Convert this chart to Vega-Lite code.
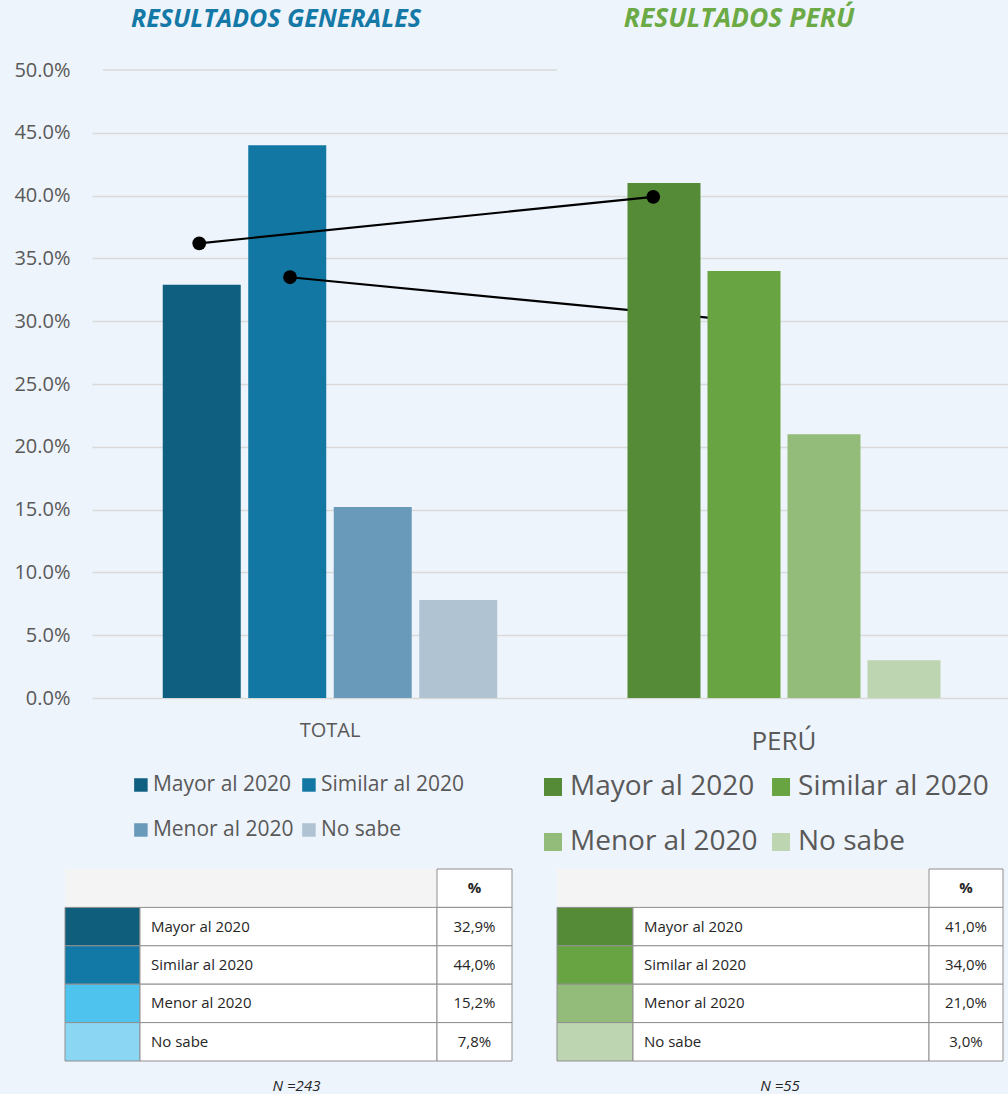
{
  "$schema": "https://vega.github.io/schema/vega-lite/v6.json",
  "background": "#EEF4FB",
  "padding": {"left": 13, "top": 5, "right": 0, "bottom": 0},
  "config": {"view": {"stroke": null}, "font": "Open Sans", "text": {"font": "Open Sans"}},
  "datasets": {
    "bars": [
      {"group": "TOTAL", "cat": "Mayor al 2020", "v": 32.9},
      {"group": "TOTAL", "cat": "Similar al 2020", "v": 44.0},
      {"group": "TOTAL", "cat": "Menor al 2020", "v": 15.2},
      {"group": "TOTAL", "cat": "No sabe", "v": 7.8},
      {"group": "PERÚ", "cat": "Mayor al 2020", "v": 41.0},
      {"group": "PERÚ", "cat": "Similar al 2020", "v": 34.0},
      {"group": "PERÚ", "cat": "Menor al 2020", "v": 21.0},
      {"group": "PERÚ", "cat": "No sabe", "v": 3.0}
    ],
    "lines": [
      {"line": "a", "group": "TOTAL", "cat": "Mayor al 2020", "v": 36.2},
      {"line": "a", "group": "PERÚ", "cat": "Mayor al 2020", "v": 39.9},
      {"line": "b", "group": "TOTAL", "cat": "Similar al 2020", "v": 33.5},
      {"line": "b", "group": "PERÚ", "cat": "Similar al 2020", "v": 30.0}
    ],
    "titles": [
      {"group": "TOTAL", "t": "RESULTADOS GENERALES"},
      {"group": "PERÚ", "t": "RESULTADOS PERÚ"}
    ],
    "legend": [
      {"cat": "Mayor al 2020", "c": "1", "r": "1"},
      {"cat": "Similar al 2020", "c": "2", "r": "1"},
      {"cat": "Menor al 2020", "c": "1", "r": "2"},
      {"cat": "No sabe", "c": "2", "r": "2"}
    ],
    "tableL": [
      {"cat": "Mayor al 2020", "pct": "32,9%"},
      {"cat": "Similar al 2020", "pct": "44,0%"},
      {"cat": "Menor al 2020", "pct": "15,2%"},
      {"cat": "No sabe", "pct": "7,8%"}
    ],
    "tableR": [
      {"cat": "Mayor al 2020", "pct": "41,0%"},
      {"cat": "Similar al 2020", "pct": "34,0%"},
      {"cat": "Menor al 2020", "pct": "21,0%"},
      {"cat": "No sabe", "pct": "3,0%"}
    ],
    "hdr": [{"cat": "hdr", "pct": "%"}]
  },
  "spacing": 0,
  "resolve": {"scale": {"color": "independent"}},
  "vconcat": [
    {
      "hconcat": [
        {"width": 79, "height": 55, "data": {"values": [{}]}, "mark": {"type": "point", "opacity": 0}, "encoding": {}},
        {
          "width": 919,
          "height": 55,
          "data": {"name": "titles"},
          "encoding": {
            "x": {"field": "group", "type": "nominal", "scale": {"type": "band", "domain": ["TOTAL", "PERÚ"], "paddingInner": 0, "paddingOuter": 0.0121, "align": 1}, "axis": null},
            "text": {"field": "t"}
          },
          "layer": [
            {"transform": [{"filter": "datum.group === 'TOTAL'"}], "mark": {"type": "text", "fontSize": 25, "fontWeight": "bold", "fontStyle": "italic", "color": "#1479A6", "dy": -13.5, "dx": -54, "baseline": "middle"}},
            {"transform": [{"filter": "datum.group === 'PERÚ'"}], "mark": {"type": "text", "fontSize": 26.5, "fontWeight": "bold", "fontStyle": "italic", "color": "#6BAA45", "dy": -13.5, "dx": -45, "baseline": "middle"}}
          ]
        }
      ],
      "spacing": 0,
      "bounds": "flush"
    },
    {
      "hconcat": [
        {
          "width": 79,
          "height": 628,
          "data": {"name": "bars"},
          "mark": {"type": "point", "opacity": 0},
          "encoding": {
            "y": {"field": "v", "type": "quantitative", "scale": {"domain": [0, 50], "nice": false},
              "axis": {"values": [0, 5, 10, 15, 20, 25, 30, 35, 40, 45, 50], "labelExpr": "format(datum.value,'.1f')+'%'", "title": null, "domain": false, "ticks": false, "grid": false, "labelPadding": -57, "labelAlign": "right", "labelFontSize": 20, "labelColor": "#595959", "labelFont": "Open Sans"}}
          }
        },
        {
          "width": 919,
          "height": 628,
          "resolve": {"scale": {"color": "independent", "xOffset": "independent"}},
          "encoding": {
            "x": {"field": "group", "type": "nominal", "scale": {"domain": ["TOTAL", "PERÚ"], "paddingInner": 0, "paddingOuter": 0.0121, "align": 1},
              "axis": {"title": null, "domain": false, "ticks": false, "grid": false, "labelBaseline": "middle", "labelColor": "#595959", "labelFont": "Open Sans", "labelAngle": 0,
                "labelFontSize": {"condition": {"test": "datum.value === 'PERÚ'", "value": 26}, "value": 20},
                "labelPadding": {"condition": {"test": "datum.value === 'PERÚ'", "value": 43}, "value": 32}}},
            "y": {"field": "v", "type": "quantitative", "scale": {"domain": [0, 50], "nice": false},
              "axis": {"values": [0, 5, 10, 15, 20, 25, 30, 35, 40, 45, 50], "labels": false, "title": null, "domain": false, "ticks": false, "gridColor": "#D9D9D9", "gridWidth": 1.5, "gridOpacity": {"condition": {"test": "datum.value === 50", "value": 0}, "value": 1}}}
          },
          "layer": [
            {
              "data": {"values": [{"group": "TOTAL", "v": 50}]},
              "mark": {"type": "rect", "fill": "#EEF4FB", "stroke": "#D9D9D9", "strokeWidth": 1.5},
              "encoding": {"y2": {"field": "v"}}
            },
            {
              "data": {"name": "bars"},
              "transform": [{"filter": "datum.group === 'TOTAL'"}],
              "mark": {"type": "bar"},
              "encoding": {
                "xOffset": {"field": "cat", "type": "nominal", "scale": {"domain": ["Mayor al 2020", "Similar al 2020", "Menor al 2020", "No sabe"], "paddingInner": 0.0877, "paddingOuter": 0.699}},
                "color": {"field": "cat", "type": "nominal", "scale": {"domain": ["Mayor al 2020", "Similar al 2020", "Menor al 2020", "No sabe"], "range": ["#0F5F80", "#1277A3", "#6A9AB9", "#AFC3D3"]}, "legend": null}
              }
            },
            {
              "data": {"name": "lines"},
              "transform": [{"filter": "datum.line === 'b'"}],
              "mark": {"type": "line", "color": "black", "strokeWidth": 2.2},
              "encoding": {
                "xOffset": {"field": "cat", "type": "nominal", "scale": {"type": "point", "domain": ["Mayor al 2020", "Similar al 2020", "Menor al 2020", "No sabe"], "padding": 1, "align": 0.53}}
              }
            },
            {
              "data": {"name": "lines"},
              "transform": [{"filter": "datum.line === 'b'"}],
              "mark": {"type": "circle", "color": "black", "opacity": 1, "size": 190},
              "encoding": {
                "xOffset": {"field": "cat", "type": "nominal", "scale": {"type": "point", "domain": ["Mayor al 2020", "Similar al 2020", "Menor al 2020", "No sabe"], "padding": 1, "align": 0.53}}
              }
            },
            {
              "data": {"name": "bars"},
              "transform": [{"filter": "datum.group === 'PERÚ'"}],
              "mark": {"type": "bar"},
              "encoding": {
                "xOffset": {"field": "cat", "type": "nominal", "scale": {"domain": ["Mayor al 2020", "Similar al 2020", "Menor al 2020", "No sabe"], "paddingInner": 0.0875, "paddingOuter": 0.881}},
                "color": {"field": "cat", "type": "nominal", "scale": {"domain": ["Mayor al 2020", "Similar al 2020", "Menor al 2020", "No sabe"], "range": ["#558B37", "#69A443", "#93BB7A", "#BDD5B1"]}, "legend": null}
              }
            },
            {
              "data": {"name": "lines"},
              "transform": [{"filter": "datum.line === 'a'"}],
              "mark": {"type": "line", "color": "black", "strokeWidth": 2.2},
              "encoding": {
                "xOffset": {"field": "cat", "type": "nominal", "scale": {"type": "point", "domain": ["Mayor al 2020", "Similar al 2020", "Menor al 2020", "No sabe"], "padding": 1, "align": 0.53}}
              }
            },
            {
              "data": {"name": "lines"},
              "transform": [{"filter": "datum.line === 'a'"}],
              "mark": {"type": "circle", "color": "black", "opacity": 1, "size": 190},
              "encoding": {
                "xOffset": {"field": "cat", "type": "nominal", "scale": {"type": "point", "domain": ["Mayor al 2020", "Similar al 2020", "Menor al 2020", "No sabe"], "padding": 1, "align": 0.53}}
              }
            }
          ]
        }
      ],
      "spacing": 0,
      "bounds": "flush"
    },
    {
      "hconcat": [
        {
          "width": 491,
          "height": 114,
          "data": {"name": "legend"},
          "encoding": {
            "x": {"field": "c", "type": "ordinal", "scale": {"type": "point", "padding": 0.961, "align": 0.396}, "axis": null},
            "y": {"field": "r", "type": "ordinal", "scale": {"type": "point", "padding": 0.767, "align": 0.449}, "axis": null}
          },
          "layer": [
            {"mark": {"type": "square", "size": 182, "opacity": 1}, "encoding": {"color": {"field": "cat", "type": "nominal", "scale": {"domain": ["Mayor al 2020", "Similar al 2020", "Menor al 2020", "No sabe"], "range": ["#0F5F80", "#1277A3", "#6A9AB9", "#AFC3D3"]}, "legend": null}}},
            {"mark": {"type": "text", "align": "left", "dx": 12, "fontSize": 21, "color": "#595959", "baseline": "middle"}, "encoding": {"text": {"field": "cat"}}}
          ]
        },
        {
          "width": 504,
          "height": 114,
          "data": {"name": "legend"},
          "encoding": {
            "x": {"field": "c", "type": "ordinal", "scale": {"type": "point", "padding": 0.605, "align": 0.1775}, "axis": null},
            "y": {"field": "r", "type": "ordinal", "scale": {"type": "point", "padding": 0.536, "align": 0.559}, "axis": null}
          },
          "layer": [
            {"mark": {"type": "square", "size": 324, "opacity": 1}, "encoding": {"color": {"field": "cat", "type": "nominal", "scale": {"domain": ["Mayor al 2020", "Similar al 2020", "Menor al 2020", "No sabe"], "range": ["#558B37", "#69A443", "#93BB7A", "#BDD5B1"]}, "legend": null}}},
            {"mark": {"type": "text", "align": "left", "dx": 17, "fontSize": 28, "color": "#595959", "baseline": "middle"}, "encoding": {"text": {"field": "cat"}}}
          ]
        }
      ],
      "spacing": 0,
      "bounds": "flush",
      "resolve": {"scale": {"color": "independent"}}
    },
    {
      "hconcat": [
        {"width": 52, "height": 192, "data": {"values": [{}]}, "mark": {"type": "point", "opacity": 0}, "encoding": {}},
        {
          "width": 75, "height": 192,
          "encoding": {"y": {"field": "cat", "type": "nominal", "scale": {"domain": ["hdr", "Mayor al 2020", "Similar al 2020", "Menor al 2020", "No sabe"], "paddingInner": 0, "paddingOuter": 0}, "axis": null}},
          "layer": [
            {"data": {"name": "hdr"}, "mark": {"type": "rect", "fill": "#F4F4F4"}},
            {"data": {"name": "tableL"}, "mark": {"type": "rect", "stroke": "#8F8F8F", "strokeWidth": 1}, "encoding": {"color": {"field": "cat", "type": "nominal", "scale": {"domain": ["Mayor al 2020", "Similar al 2020", "Menor al 2020", "No sabe"], "range": ["#0F5E7C", "#1279A6", "#4EC3EE", "#8BD7F3"]}, "legend": null}}}
          ]
        },
        {
          "width": 297, "height": 192,
          "title": {"text": "N =243", "orient": "bottom", "anchor": "middle", "fontSize": 15, "fontStyle": "italic", "fontWeight": "normal", "font": "Open Sans", "color": "#262626", "offset": 17, "dx": 8},
          "encoding": {"y": {"field": "cat", "type": "nominal", "scale": {"domain": ["hdr", "Mayor al 2020", "Similar al 2020", "Menor al 2020", "No sabe"], "paddingInner": 0, "paddingOuter": 0}, "axis": null}},
          "layer": [
            {"data": {"name": "hdr"}, "mark": {"type": "rect", "fill": "#F4F4F4"}},
            {"data": {"name": "tableL"}, "mark": {"type": "rect", "fill": "white", "stroke": "#8F8F8F", "strokeWidth": 1}},
            {"data": {"name": "tableL"}, "mark": {"type": "text", "align": "left", "dx": 11, "fontSize": 15, "color": "#262626", "baseline": "middle"}, "encoding": {"x": {"datum": 0, "type": "quantitative", "scale": {"domain": [0, 1]}, "axis": null}, "text": {"field": "cat"}}}
          ]
        },
        {
          "width": 75, "height": 192,
          "encoding": {"y": {"field": "cat", "type": "nominal", "scale": {"domain": ["hdr", "Mayor al 2020", "Similar al 2020", "Menor al 2020", "No sabe"], "paddingInner": 0, "paddingOuter": 0}, "axis": null}},
          "layer": [
            {"data": {"name": "hdr"}, "mark": {"type": "rect", "fill": "white", "stroke": "#8F8F8F", "strokeWidth": 1}},
            {"data": {"name": "hdr"}, "mark": {"type": "text", "fontSize": 15, "fontWeight": "bold", "color": "#262626", "baseline": "middle"}, "encoding": {"text": {"field": "pct"}}},
            {"data": {"name": "tableL"}, "mark": {"type": "rect", "fill": "white", "stroke": "#8F8F8F", "strokeWidth": 1}},
            {"data": {"name": "tableL"}, "mark": {"type": "text", "fontSize": 15, "color": "#262626", "baseline": "middle"}, "encoding": {"text": {"field": "pct"}}}
          ]
        },
        {"width": 45, "height": 192, "data": {"values": [{}]}, "mark": {"type": "point", "opacity": 0}, "encoding": {}},
        {
          "width": 76, "height": 192,
          "encoding": {"y": {"field": "cat", "type": "nominal", "scale": {"domain": ["hdr", "Mayor al 2020", "Similar al 2020", "Menor al 2020", "No sabe"], "paddingInner": 0, "paddingOuter": 0}, "axis": null}},
          "layer": [
            {"data": {"name": "hdr"}, "mark": {"type": "rect", "fill": "#F4F4F4"}},
            {"data": {"name": "tableR"}, "mark": {"type": "rect", "stroke": "#8F8F8F", "strokeWidth": 1}, "encoding": {"color": {"field": "cat", "type": "nominal", "scale": {"domain": ["Mayor al 2020", "Similar al 2020", "Menor al 2020", "No sabe"], "range": ["#558B37", "#69A443", "#93BB7A", "#BDD5B1"]}, "legend": null}}}
          ]
        },
        {
          "width": 296, "height": 192,
          "title": {"text": "N =55", "orient": "bottom", "anchor": "middle", "fontSize": 15, "fontStyle": "italic", "fontWeight": "normal", "font": "Open Sans", "color": "#262626", "offset": 17, "dx": -1},
          "encoding": {"y": {"field": "cat", "type": "nominal", "scale": {"domain": ["hdr", "Mayor al 2020", "Similar al 2020", "Menor al 2020", "No sabe"], "paddingInner": 0, "paddingOuter": 0}, "axis": null}},
          "layer": [
            {"data": {"name": "hdr"}, "mark": {"type": "rect", "fill": "#F4F4F4"}},
            {"data": {"name": "tableR"}, "mark": {"type": "rect", "fill": "white", "stroke": "#8F8F8F", "strokeWidth": 1}},
            {"data": {"name": "tableR"}, "mark": {"type": "text", "align": "left", "dx": 11, "fontSize": 15, "color": "#262626", "baseline": "middle"}, "encoding": {"x": {"datum": 0, "type": "quantitative", "scale": {"domain": [0, 1]}, "axis": null}, "text": {"field": "cat"}}}
          ]
        },
        {
          "width": 74, "height": 192,
          "encoding": {"y": {"field": "cat", "type": "nominal", "scale": {"domain": ["hdr", "Mayor al 2020", "Similar al 2020", "Menor al 2020", "No sabe"], "paddingInner": 0, "paddingOuter": 0}, "axis": null}},
          "layer": [
            {"data": {"name": "hdr"}, "mark": {"type": "rect", "fill": "white", "stroke": "#8F8F8F", "strokeWidth": 1}},
            {"data": {"name": "hdr"}, "mark": {"type": "text", "fontSize": 15, "fontWeight": "bold", "color": "#262626", "baseline": "middle"}, "encoding": {"text": {"field": "pct"}}},
            {"data": {"name": "tableR"}, "mark": {"type": "rect", "fill": "white", "stroke": "#8F8F8F", "strokeWidth": 1}},
            {"data": {"name": "tableR"}, "mark": {"type": "text", "fontSize": 15, "color": "#262626", "baseline": "middle"}, "encoding": {"text": {"field": "pct"}}}
          ]
        }
      ],
      "spacing": 0,
      "bounds": "flush",
      "resolve": {"scale": {"color": "independent"}}
    }
  ]
}
